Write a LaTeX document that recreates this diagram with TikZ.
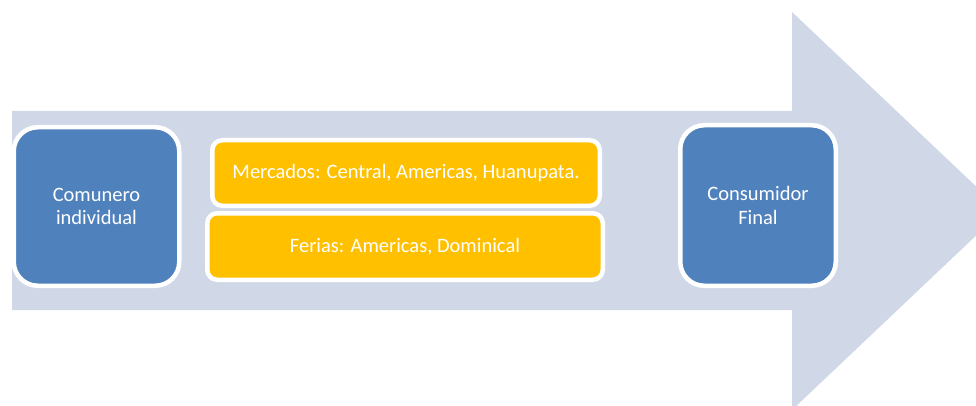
\documentclass[tikz,border=0pt]{standalone}
\usepackage{fontspec}
\setmainfont{Carlito}
\definecolor{shaftc}{HTML}{D0D8E8}
\definecolor{boxblue}{HTML}{4F81BD}
\definecolor{boxyel}{HTML}{FFC000}
\begin{document}
\begin{tikzpicture}[x=1pt,y=-1pt,
  card/.style={draw=white, line width=4.5pt, inner sep=0pt, align=center,
    text=white, font=\fontsize{20.5}{23.5}\selectfont},
  bluecard/.style={card, fill=boxblue, rounded corners=24pt},
  yelcard/.style={card, fill=boxyel, rounded corners=10pt}]
\useasboundingbox (0,0) rectangle (976,406);
\clip (0,0) rectangle (976,406);
\fill[shaftc] (12,111) -- (792,111) -- (792,12) -- (1002,211) -- (792,410) -- (792,310) -- (12,310) -- cycle;
\node[bluecard, minimum width=165.5pt, minimum height=158.5pt] (com) at (96.5,206.5) {Comunero\\individual};
\node[bluecard, minimum width=155.5pt, minimum height=160.5pt] (con) at (758,205.5) {Consumidor\\Final};
\node[yelcard, minimum width=387.5pt, minimum height=65.5pt] (mer) at (406,173) {Mercados: Central, Americas, Huanupata.};
\node[yelcard, minimum width=395.5pt, minimum height=66.5pt] (fer) at (405,246.5) {Ferias: Americas, Dominical};
\end{tikzpicture}
\end{document}
